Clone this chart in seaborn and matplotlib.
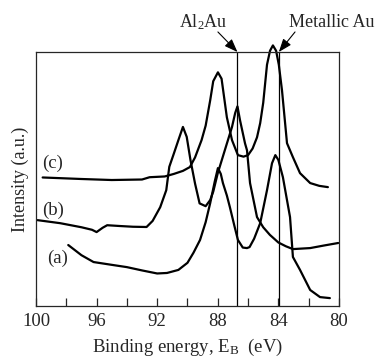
import numpy as np
import pandas as pd
import matplotlib
matplotlib.use("Agg")
import matplotlib.pyplot as plt
import seaborn as sns

# spectrum (a)
a_energy = [97.87, 97.0, 96.2, 95.0, 94.0, 93.0, 92.0, 91.35, 90.6, 90.0, 89.6, 89.17, 88.8,
            88.5, 88.2, 87.99, 87.8, 87.66, 87.4, 87.2, 86.9, 86.67, 86.35, 86.07, 85.9, 85.6,
            85.2, 84.75, 84.42, 84.2, 84.0, 83.7, 83.23, 83.04, 82.57, 81.9, 81.25, 80.6]
a_int = [24.0, 20.0, 17.3, 16.2, 15.3, 14.0, 12.8, 13.0, 14.2, 17.0, 21.0, 26.0, 33.0,
         40.5, 49.0, 54.3, 52.0, 48.4, 43.5, 38.9, 31.5, 26.0, 23.0, 22.8, 23.2, 26.5,
         32.6, 45.6, 56.2, 59.4, 57.5, 50.7, 35.0, 19.3, 14.2, 6.3, 3.5, 3.1]

# spectrum (b)
b_energy = [99.9, 98.4, 97.0, 96.3, 96.0, 95.6, 95.3, 94.5, 93.6, 92.7, 92.3, 91.8, 91.4,
            91.2, 90.9, 90.6, 90.3, 90.05, 89.8, 89.5, 89.2, 88.8, 88.5, 88.3, 88.0, 87.5,
            87.06, 86.85, 86.7, 86.53, 86.2, 86.07, 85.87, 85.41, 85.0, 84.56, 84.0, 83.5,
            83.04, 81.9, 81.0, 80.05]
b_int = [33.8, 32.6, 31.0, 30.0, 29.1, 30.8, 31.8, 31.5, 31.2, 31.1, 33.5, 38.9, 45.6,
         54.8, 60.0, 65.3, 70.5, 66.6, 57.4, 48.2, 40.4, 39.3, 41.7, 45.0, 52.3, 62.0,
         70.5, 76.0, 78.6, 73.1, 64.0, 61.3, 48.4, 35.0, 31.0, 28.0, 25.0, 23.5,
         22.4, 22.8, 23.8, 24.8]

# spectrum (c)
c_energy = [99.56, 97.0, 95.0, 93.0, 92.5, 91.5, 90.9, 90.3, 89.84, 89.5, 89.07, 88.8, 88.5,
            88.3, 87.99, 87.75, 87.4, 87.06, 86.67, 86.3, 86.0, 85.7, 85.41, 85.2, 85.0,
            84.75, 84.55, 84.36, 84.15, 83.97, 83.76, 83.43, 83.04, 82.57, 81.9, 81.3, 80.73]
c_int = [50.6, 50.0, 49.6, 49.8, 50.7, 51.0, 52.0, 53.2, 54.7, 58.5, 65.3, 71.0, 81.0,
         88.5, 92.0, 89.5, 74.3, 65.3, 59.4, 58.8, 59.4, 62.0, 66.4, 72.0, 80.0,
         95.0, 100.5, 102.6, 100.5, 95.0, 84.9, 64.1, 58.6, 52.3, 48.4, 47.3, 46.8]

sample_names = ["(a)", "(b)", "(c)"]
label_pos = [(98.6, 18.9), (98.9, 37.8), (98.9, 56.3)]

# reference lines
line_energies = [86.7, 83.97]
line_labels = ["Al$_\\mathrm{2}$Au", "Metallic Au"]

df = pd.concat([
    pd.DataFrame({"energy": a_energy, "intensity": a_int, "sample": "(a)"}),
    pd.DataFrame({"energy": b_energy, "intensity": b_int, "sample": "(b)"}),
    pd.DataFrame({"energy": c_energy, "intensity": c_int, "sample": "(c)"}),
])

sns.set_style("ticks")
plt.rcParams["font.family"] = ["Liberation Serif", "DejaVu Serif"]
plt.rcParams["mathtext.fontset"] = "custom"
plt.rcParams["mathtext.rm"] = "Liberation Serif"
plt.rcParams["mathtext.it"] = "Liberation Serif:italic"

fig = plt.figure(figsize=(3.8, 3.58), dpi=100)
ax = fig.add_axes([0.0947, 0.1453, 0.7973, 0.7094])

sns.lineplot(data=df, x="energy", y="intensity", hue="sample", units="sample",
             estimator=None, palette=["black"] * 3, legend=False, linewidth=1.6,
             ax=ax, clip_on=False)

for e in line_energies:
    ax.axvline(e, color="black", linewidth=0.9)

for name, (x, y) in zip(sample_names, label_pos):
    ax.text(x, y, name, fontsize=13.5, ha="center", va="center")

# arrows with labels above the frame
ax.annotate("", xy=(line_energies[0], 100), xytext=(87.99, 107.9),
            arrowprops=dict(arrowstyle="-|>,head_length=0.8,head_width=0.3",
                            color="black", lw=0.8, shrinkA=0, shrinkB=0),
            annotation_clip=False)
ax.annotate("", xy=(line_energies[1], 100), xytext=(82.9, 107.9),
            arrowprops=dict(arrowstyle="-|>,head_length=0.8,head_width=0.3",
                            color="black", lw=0.8, shrinkA=0, shrinkB=0),
            annotation_clip=False)
ax.text(88.98, 111.8, line_labels[0], fontsize=13, ha="center", va="center")
ax.text(80.5, 111.8, line_labels[1], fontsize=13, ha="center", va="center")

ax.set_xlim(100, 80)
ax.set_ylim(0, 100)
ax.set_xticks([100, 96, 92, 88, 84, 80])
ax.set_xticks(np.arange(80, 101, 2), minor=True)
ax.set_yticks([])
ax.tick_params(axis="x", which="both", direction="in", length=6, width=0.9,
               labelsize=13.5, pad=5)
for s in ax.spines.values():
    s.set_linewidth(0.9)

ax.set_xlabel("Binding energy, E$_\\mathrm{B}$  (eV)", fontsize=13.5, labelpad=5)
ax.set_ylabel("Intensity (a.u.)", fontsize=13, labelpad=5)

fig.savefig("out.png", dpi=100)
